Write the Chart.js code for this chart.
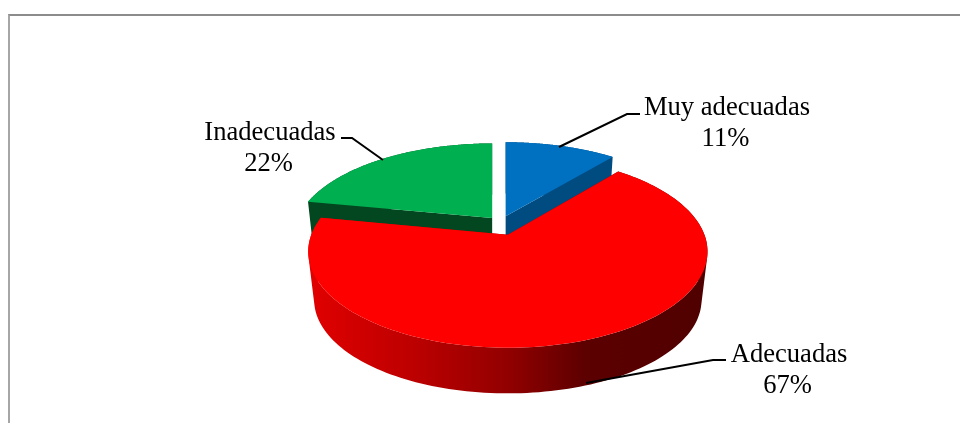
<!DOCTYPE html>
<html lang="en">
<head>
    <meta charset="UTF-8">
    <title>Adecuadas</title>
    <style>
        html, body { margin: 0; padding: 0; background: #fff; }
        #wrap { position: relative; width: 960px; height: 423px; overflow: hidden; }
        #frame {
            position: absolute; left: 8px; top: 14px; right: -4px; bottom: -4px;
            border-top: 2px solid #8c8c8c; border-left: 2px solid #a6a6a6;
        }
        canvas { position: absolute; left: 0; top: 0; }
    </style>
    <script src="https://cdn.jsdelivr.net/npm/chart.js"></script>
</head>
<body>
<div id="wrap">
    <div id="frame"></div>
    <canvas id="pie" width="960" height="423"></canvas>
</div>
<script>
    const categories = ['Muy adecuadas', 'Adecuadas', 'Inadecuadas'];
    const shares = [11, 67, 22];

    const topColors = ['#0070C0', '#FF0000', '#00B050'];
    const sideColors = ['#004B80', null, '#02471F'];
    // draw order: red goes last because it sits in front of the other two
    const drawOrder = [2, 0, 1];

    // label anchor and leader line, same order as categories
    const labelSpots = [
        { x: 727, y: 115, leader: [[559, 147], [627, 114], [640, 114]] },
        { x: 789, y: 362, leader: [[586, 383], [713, 360], [726, 360]] },
        { x: 270, y: 140, leader: [[383, 160], [352, 138], [341, 138]] }
    ];

    // fake 3D projection of the flat pie
    const widthFactor = 1.026;
    const thickness = 49;
    const bottomScale = 0.97;

    function project(view, angle, scale, drop) {
        const X = Math.cos(angle);
        const Y = -Math.sin(angle);
        const w = 1 + view.perspective * Y;
        return [
            view.x + scale * view.radiusX * X / w,
            view.y + drop - scale * view.radiusX * view.tilt * Y / w
        ];
    }

    function tracePoly(ctx, points) {
        points.forEach((p, i) => i ? ctx.lineTo(p[0], p[1]) : ctx.moveTo(p[0], p[1]));
        ctx.closePath();
    }

    function fillPoly(ctx, points, color) {
        ctx.beginPath();
        tracePoly(ctx, points);
        ctx.fillStyle = color;
        ctx.fill();
    }

    function signedArea(points) {
        let sum = 0;
        points.forEach((p, i) => {
            const q = points[(i + 1) % points.length];
            sum += p[0] * q[1] - q[0] * p[1];
        });
        return sum;
    }

    function arcPoints(view, a0, a1, scale, drop) {
        const pts = [];
        const steps = 160;
        for (let i = 0; i <= steps; i++) {
            pts.push(project(view, a0 + (a1 - a0) * i / steps, scale, drop));
        }
        return pts;
    }

    const pie3d = {
        id: 'pie3d',
        beforeDatasetsDraw(chart) {
            const ctx = chart.ctx;
            const arcs = chart.getDatasetMeta(0).data;
            ctx.save();
            drawOrder.forEach(i => {
                const el = arcs[i];
                const mid = (el.startAngle + el.endAngle) / 2;
                const off = el.options.offset;
                // depth runs from -1 (far side) to 1 (near side)
                const depth = Math.sin(mid);
                const view = {
                    x: el.x + off * Math.cos(mid) + 0.12 * off * 0.7 * depth,
                    y: el.y + off * 0.7 * depth,
                    radiusX: el.outerRadius * widthFactor * (1 + 0.006 * depth),
                    tilt: 0.4665 + 0.008 * depth,
                    perspective: 0.19 - 0.0154 * depth
                };
                const a0 = el.startAngle;
                const a1 = el.endAngle;

                let side = sideColors[i];
                if (!side) {
                    side = ctx.createLinearGradient(view.x - view.radiusX, 0, view.x + view.radiusX, 0);
                    side.addColorStop(0, '#E00000');
                    side.addColorStop(0.25, '#BE0000');
                    side.addColorStop(0.5, '#920000');
                    side.addColorStop(0.7, '#5C0000');
                    side.addColorStop(1, '#500000');
                }

                // cut faces and rim go in one path so the strips leave no seams
                const rimTop = arcPoints(view, a0, a1, 1, 0);
                const rimBottom = arcPoints(view, a0, a1, bottomScale, thickness);
                const quads = [a0, a1].map(a => [
                    [view.x, view.y],
                    project(view, a, 1, 0),
                    project(view, a, bottomScale, thickness),
                    [view.x, view.y + thickness]
                ]);
                for (let s = 0; s < rimTop.length - 1; s++) {
                    quads.push([rimTop[s], rimTop[s + 1], rimBottom[s + 1], rimBottom[s]]);
                }
                ctx.beginPath();
                quads.forEach(q => tracePoly(ctx, signedArea(q) < 0 ? q.slice().reverse() : q));
                ctx.fillStyle = side;
                ctx.fill();

                fillPoly(ctx, [[view.x, view.y]].concat(rimTop), topColors[i]);
            });

            // labels with leader lines
            ctx.font = "26.6px 'Liberation Serif'";
            ctx.textAlign = 'center';
            ctx.textBaseline = 'alphabetic';
            ctx.fillStyle = '#000';
            ctx.strokeStyle = '#000';
            ctx.lineWidth = 2;
            categories.forEach((name, i) => {
                const spot = labelSpots[i];
                ctx.beginPath();
                spot.leader.forEach((p, j) => j ? ctx.lineTo(p[0], p[1]) : ctx.moveTo(p[0], p[1]));
                ctx.stroke();
                ctx.fillText(name, spot.x, spot.y);
                ctx.fillText(shares[i] + '%', spot.x - 1.5, spot.y + 30.5);
            });
            ctx.restore();
            return false;
        }
    };

    new Chart(document.getElementById('pie'), {
        type: 'pie',
        data: {
            labels: categories,
            datasets: [{
                data: shares,
                backgroundColor: topColors,
                borderWidth: 0,
                offset: 14
            }]
        },
        options: {
            responsive: false,
            animation: false,
            layout: { padding: { left: 44, top: 28 } },
            plugins: {
                legend: { display: false },
                tooltip: { enabled: false }
            }
        },
        plugins: [pie3d]
    });
</script>
</body>
</html>
